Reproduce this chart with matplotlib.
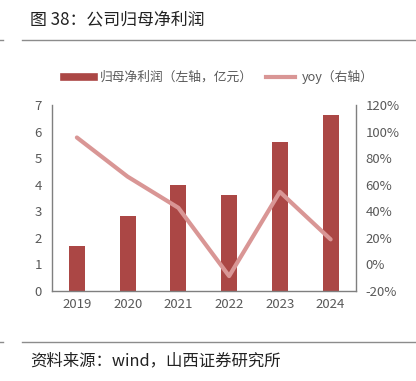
import matplotlib
matplotlib.use("Agg")
import matplotlib.pyplot as plt
from matplotlib.ticker import FuncFormatter, MultipleLocator
from matplotlib.lines import Line2D

plt.rcParams['font.family'] = ['Noto Sans CJK SC', 'DejaVu Sans']

years = ["2019", "2020", "2021", "2022", "2023", "2024"]
profit = [1.69, 2.82, 4.00, 3.62, 5.61, 6.64]
yoy = [95.5, 66.0, 42.5, -9.0, 54.5, 18.7]

W, H = 416, 381
fig = plt.figure(figsize=(W / 100, H / 100), dpi=100)

def px(x0, y0, x1, y1):
    return [x0 / W, 1 - y1 / H, (x1 - x0) / W, (y1 - y0) / H]

bar_color = "#AB4745"
line_color = "#D99695"
tick_color = "#595959"
spine_color = "#7F7F7F"

ax = fig.add_axes(px(51.5, 105, 356, 290.7))
x = list(range(len(years)))
ax.bar(x, profit, width=0.315, color=bar_color, zorder=2)
ax.set_xlim(-0.5, len(years) - 0.5)
ax.set_ylim(0, 7)
ax.yaxis.set_major_locator(MultipleLocator(1))
ax.set_xticks(x)
ax.set_xticklabels(years)

ax2 = ax.twinx()
ax2.plot(x, yoy, color=line_color, lw=3.0, solid_capstyle='round', zorder=3)
ax2.set_ylim(-20, 120)
ax2.yaxis.set_major_locator(MultipleLocator(20))
ax2.yaxis.set_major_formatter(FuncFormatter(lambda v, p: f"{int(round(v))}%"))

for a in (ax, ax2):
    for s in a.spines.values():
        s.set_visible(False)
    a.tick_params(length=0, labelsize=9.5, colors=tick_color)
ax.spines['left'].set_visible(True)
ax.spines['bottom'].set_visible(True)
ax2.spines['right'].set_visible(True)
for s in (ax.spines['left'], ax.spines['bottom'], ax2.spines['right']):
    s.set_color(spine_color)
    s.set_linewidth(1.0)
ax.tick_params(axis='y', pad=7)
ax.tick_params(axis='x', pad=5)
ax2.tick_params(axis='y', pad=7)

# legend
handles = [
    Line2D([], [], color=bar_color, lw=5.5),
    Line2D([], [], color=line_color, lw=3.0),
]
fig.legend(handles, ["归母净利润（左轴，亿元）", "yoy（右轴）"],
           loc='center', bbox_to_anchor=(219 / W, 1 - 77 / H), ncol=2,
           frameon=False, fontsize=9.2, handlelength=2.3, handletextpad=0.5,
           columnspacing=1.0, labelcolor=tick_color)

# title and rules
fig.text(30 / W, 1 - 20 / H, "图 38：公司归母净利润", fontsize=12.2, color="#222222",
         va='center', ha='left')
fig.add_artist(Line2D([22 / W, 1.0], [1 - 40 / H] * 2, color="#8C8C8C", lw=1.0))
fig.add_artist(Line2D([0, 3 / W], [1 - 40 / H] * 2, color="#8C8C8C", lw=1.0))
fig.add_artist(Line2D([22 / W, 1.0], [1 - 342 / H] * 2, color="#8C8C8C", lw=1.0))
fig.add_artist(Line2D([0, 3 / W], [1 - 342 / H] * 2, color="#8C8C8C", lw=1.0))
fig.text(30 / W, 1 - 361 / H, "资料来源：wind，山西证券研究所", fontsize=11.8, color="#222222",
         va='center', ha='left')

fig.savefig("out.png", dpi=100)
